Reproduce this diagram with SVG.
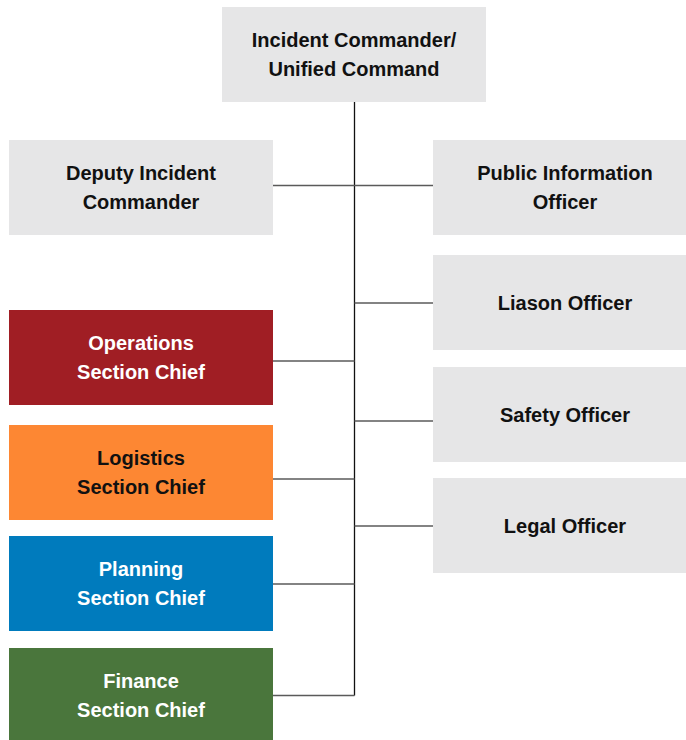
<svg xmlns="http://www.w3.org/2000/svg" width="686" height="740" viewBox="0 0 686 740">
<style>
.box{stroke:none}
.g{fill:#e6e6e7}
.t{font-family:"Liberation Sans",Arial,sans-serif;font-weight:bold;font-size:20px;text-anchor:middle}
.dk{fill:#111}
.wt{fill:#fff}
.h{stroke:#5a5a5a;stroke-width:1.5;fill:none}
.v{stroke:#111;stroke-width:1.3;fill:none}
</style>
<g id="connectors">
<line class="v" x1="354.5" y1="101" x2="354.5" y2="695.5"/>
<line class="h" x1="273" y1="185.5" x2="433" y2="185.5"/>
<line class="h" x1="354.5" y1="303" x2="433" y2="303"/>
<line class="h" x1="273" y1="361" x2="354.5" y2="361"/>
<line class="h" x1="354.5" y1="421" x2="433" y2="421"/>
<line class="h" x1="273" y1="479" x2="354.5" y2="479"/>
<line class="h" x1="354.5" y1="526" x2="433" y2="526"/>
<line class="h" x1="273" y1="584" x2="354.5" y2="584"/>
<line class="h" x1="273" y1="695.5" x2="354.5" y2="695.5"/>
</g>
<g id="incident-commander">
<rect class="box g" x="222" y="7" width="264" height="95"/>
<text class="t dk" x="354" y="47">Incident Commander/</text>
<text class="t dk" x="354" y="76">Unified Command</text>
</g>
<g id="deputy">
<rect class="box g" x="9" y="140" width="264" height="95"/>
<text class="t dk" x="141" y="180">Deputy Incident</text>
<text class="t dk" x="141" y="209">Commander</text>
</g>
<g id="public-info">
<rect class="box g" x="433" y="140" width="264" height="95"/>
<text class="t dk" x="565" y="180">Public Information</text>
<text class="t dk" x="565" y="209">Officer</text>
</g>
<g id="liaison">
<rect class="box g" x="433" y="255" width="264" height="95"/>
<text class="t dk" x="565" y="310">Liason Officer</text>
</g>
<g id="safety">
<rect class="box g" x="433" y="367" width="264" height="95"/>
<text class="t dk" x="565" y="422">Safety Officer</text>
</g>
<g id="legal">
<rect class="box g" x="433" y="478" width="264" height="95"/>
<text class="t dk" x="565" y="533">Legal Officer</text>
</g>
<g id="operations">
<rect class="box" fill="#a01e24" x="9" y="310" width="264" height="95"/>
<text class="t wt" x="141" y="350">Operations</text>
<text class="t wt" x="141" y="379">Section Chief</text>
</g>
<g id="logistics">
<rect class="box" fill="#fd8733" x="9" y="425" width="264" height="95"/>
<text class="t dk" x="141" y="465">Logistics</text>
<text class="t dk" x="141" y="494">Section Chief</text>
</g>
<g id="planning">
<rect class="box" fill="#007bbd" x="9" y="536" width="264" height="95"/>
<text class="t wt" x="141" y="576">Planning</text>
<text class="t wt" x="141" y="605">Section Chief</text>
</g>
<g id="finance">
<rect class="box" fill="#4a763c" x="9" y="648" width="264" height="95"/>
<text class="t wt" x="141" y="688">Finance</text>
<text class="t wt" x="141" y="717">Section Chief</text>
</g>
</svg>
